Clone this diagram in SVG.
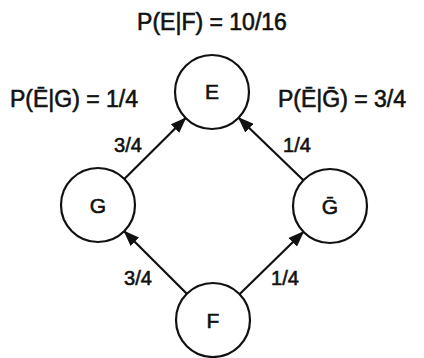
<svg xmlns="http://www.w3.org/2000/svg" width="424" height="358" viewBox="0 0 424 358">
<style>
.t{font-family:"Liberation Sans",Arial,sans-serif;font-size:23px;fill:#111;stroke:#111;stroke-width:0.6;}
.n{font-family:"Liberation Sans",Arial,sans-serif;font-size:21px;fill:#111;stroke:#111;stroke-width:0.6;text-anchor:middle;}
.c{fill:#fff;stroke:#111;stroke-width:2.2;}
.e{stroke:#111;stroke-width:2.2;fill:none;marker-end:url(#ah);}
</style>
<defs>
<marker id="ah" markerUnits="userSpaceOnUse" markerWidth="16" markerHeight="12" viewBox="0 0 16 12" refX="15" refY="6" orient="auto">
<path d="M0,0 L16,6 L0,12 Z" fill="#111"/>
</marker>
</defs>
<g id="connectors">
<line class="e" x1="124.3" y1="179" x2="185.7" y2="118"/>
<line class="e" x1="303.4" y1="180.3" x2="238.6" y2="117.7"/>
<line class="e" x1="186.8" y1="293.8" x2="124.2" y2="231.2"/>
<line class="e" x1="239.5" y1="294.2" x2="303.5" y2="231.8"/>
</g>
<g id="node-E"><circle class="c" cx="212" cy="92" r="37"/><text class="n" x="212" y="99">E</text></g>
<g id="node-G"><circle class="c" cx="98" cy="205" r="37"/><text class="n" x="98" y="213">G</text></g>
<g id="node-Gbar"><circle class="c" cx="330" cy="206" r="37"/><text class="n" x="330" y="214">Ḡ</text></g>
<g id="node-F"><circle class="c" cx="213" cy="320" r="37"/><text class="n" x="213" y="328">F</text></g>
<g id="labels">
<text class="t" x="212" y="30" text-anchor="middle">P(E|F) = 10/16</text>
<text class="t" x="10" y="107">P(Ē|G) = 1/4</text>
<text class="t" x="278" y="107">P(Ē|Ḡ) = 3/4</text>
<text class="t" x="128" y="152" text-anchor="middle" style="font-size:20px">3/4</text>
<text class="t" x="297" y="152" text-anchor="middle" style="font-size:20px">1/4</text>
<text class="t" x="138" y="285" text-anchor="middle" style="font-size:20px">3/4</text>
<text class="t" x="285" y="285" text-anchor="middle" style="font-size:20px">1/4</text>
</g>
</svg>
